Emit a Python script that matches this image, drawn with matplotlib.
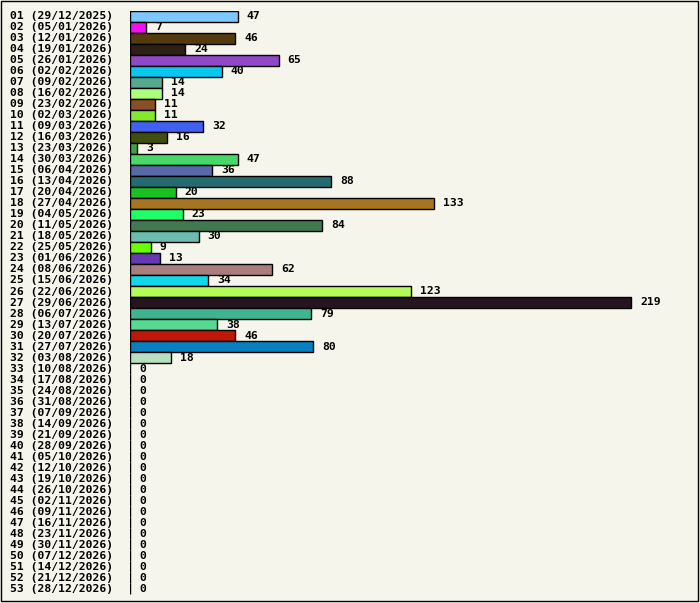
import matplotlib
matplotlib.use('Agg')
import matplotlib.pyplot as plt
from matplotlib.patches import Rectangle

weeks = ['%02d' % i for i in range(1, 54)]
dates = ['29/12/2025', '05/01/2026', '12/01/2026', '19/01/2026', '26/01/2026',
         '02/02/2026', '09/02/2026', '16/02/2026', '23/02/2026', '02/03/2026',
         '09/03/2026', '16/03/2026', '23/03/2026', '30/03/2026', '06/04/2026',
         '13/04/2026', '20/04/2026', '27/04/2026', '04/05/2026', '11/05/2026',
         '18/05/2026', '25/05/2026', '01/06/2026', '08/06/2026', '15/06/2026',
         '22/06/2026', '29/06/2026', '06/07/2026', '13/07/2026', '20/07/2026',
         '27/07/2026', '03/08/2026', '10/08/2026', '17/08/2026', '24/08/2026',
         '31/08/2026', '07/09/2026', '14/09/2026', '21/09/2026', '28/09/2026',
         '05/10/2026', '12/10/2026', '19/10/2026', '26/10/2026', '02/11/2026',
         '09/11/2026', '16/11/2026', '23/11/2026', '30/11/2026', '07/12/2026',
         '14/12/2026', '21/12/2026', '28/12/2026']
values = [47, 7, 46, 24, 65, 40, 14, 14, 11, 11, 32, 16, 3, 47, 36, 88, 20, 133,
          23, 84, 30, 9, 13, 62, 34, 123, 219, 79, 38, 46, 80, 18] + [0] * 21
colors = ['#7dc8ff', '#f010f0', '#553a10', '#2e2015', '#9148c8', '#08c8f0',
          '#58a890', '#acff78', '#8a4e28', '#82e830', '#4060f0', '#404e10',
          '#40a040', '#48d868', '#5868a8', '#246c70', '#18c020', '#a67520',
          '#20ff68', '#407850', '#6cbcb0', '#68ff00', '#6838b0', '#aa7e7e',
          '#10d8e8', '#b4fa58', '#261420', '#40b490', '#58d890', '#c01808',
          '#0880c0', '#b8e0c0'] + ['#ffffff'] * 21

bg = '#f5f5eb'
W, H = 700, 603
fig = plt.figure(figsize=(W / 100, H / 100), dpi=100, facecolor=bg)

# axes placed in pixel terms: x=0 at px 130, row pitch ~11 px
x0, x1 = 130, 680
top, bot = 10.5, 594.5
ax = fig.add_axes([x0 / W, (H - bot) / H, (x1 - x0) / W, (bot - top) / H])
ax.set_facecolor(bg)
ax.set_xlim(0, (x1 - x0) / 2.288)
ax.set_ylim(len(values) - 0.5, -0.5)
ax.axis('off')

ypos = list(range(len(values)))
ax.barh(ypos, values, height=1.0, color=colors, edgecolor='black', linewidth=1.0)

font = dict(family='DejaVu Sans Mono', weight='bold', size=8.2)
for i, (w, d, v) in enumerate(zip(weeks, dates, values)):
    ax.text(v + 9 / 2.288 * (1 if v else 1), i, str(v), va='center', ha='left', **font)
    fig.text(10 / W, 1 - (16 + i * 11.02) / H, '%s (%s)' % (w, d),
             va='center', ha='left', **font)

fig.add_artist(Rectangle((0.5 / W, 2.5 / H), (W - 2.5) / W, (H - 3) / H,
                         transform=fig.transFigure, fill=False,
                         edgecolor='black', linewidth=1.0))

fig.savefig('out.png', dpi=100, facecolor=bg)
